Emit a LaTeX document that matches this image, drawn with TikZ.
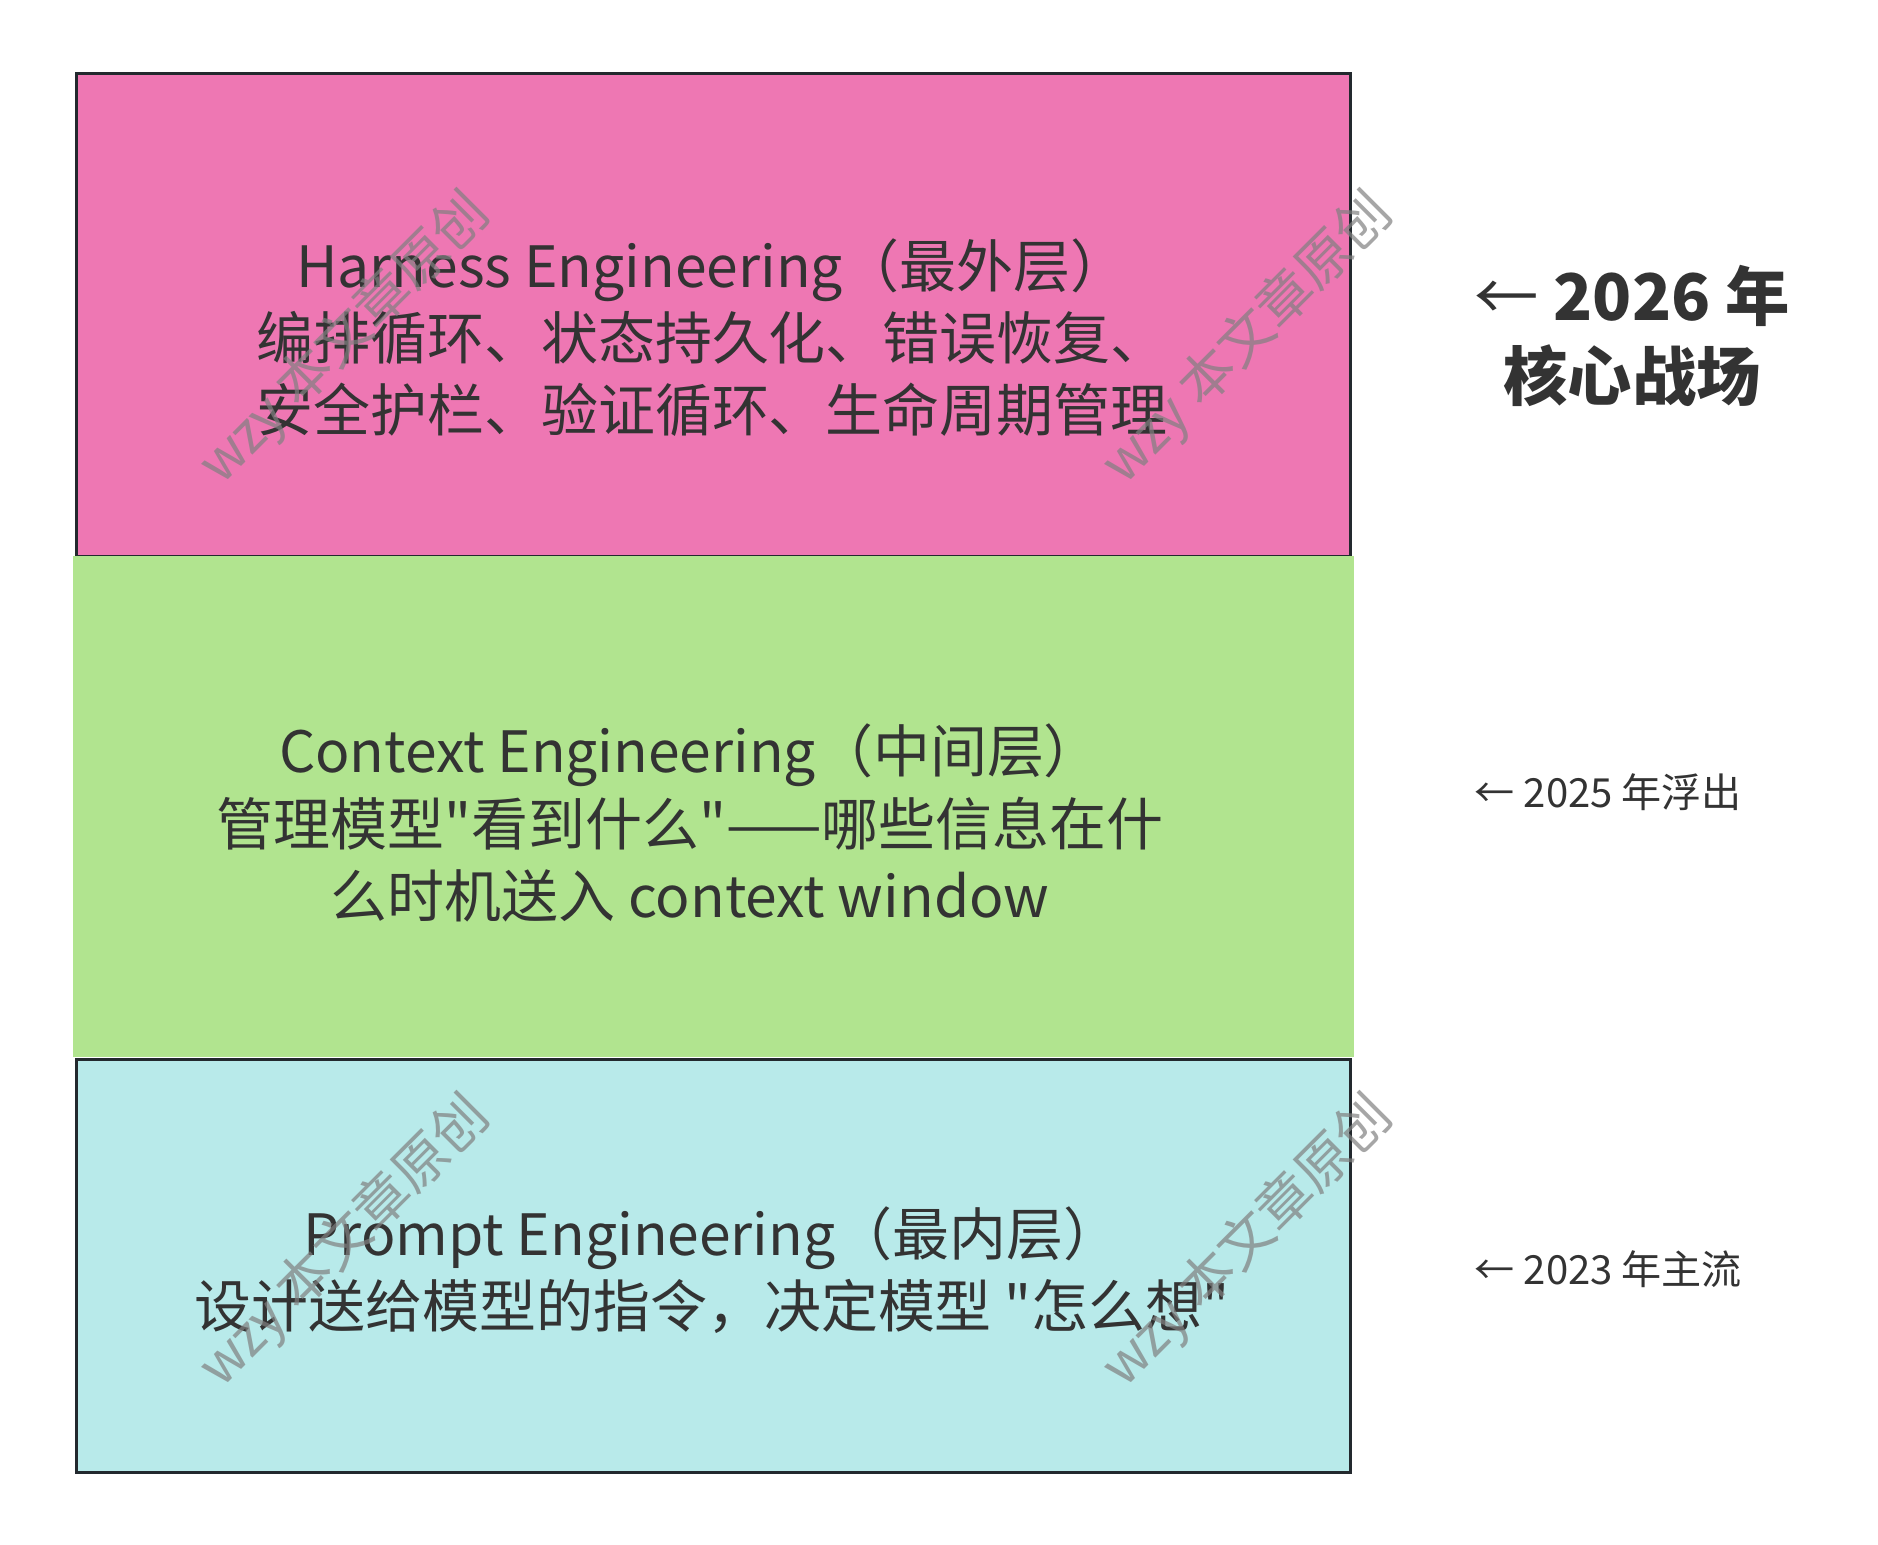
\documentclass[tikz,border=0pt]{standalone}
\usepackage{fontspec}
\setmainfont{Noto Sans CJK SC}[Ligatures=TeXOff]

\definecolor{harnessPink}{HTML}{EE77B3}
\definecolor{contextGreen}{HTML}{B1E48F}
\definecolor{promptCyan}{HTML}{B8EAEA}
\definecolor{edgeDark}{HTML}{23292E}
\definecolor{inkGray}{HTML}{333333}

\begin{document}
\begin{tikzpicture}[x=0.01cm, y=-0.01cm,
					layer/.style={rectangle, draw=edgeDark, line width=0.03cm, inner sep=0pt},
					layer text/.style={align=center, text=inkGray,
					                   font=\fontsize{16.2}{20.5}\selectfont},
					era/.style={anchor=west, inner sep=0pt, text=inkGray,
					            font=\fontsize{11.4}{13}\selectfont},
					stamp/.style={rotate=45, text=gray, text opacity=0.7,
					              font=\fontsize{15.6}{16}\selectfont}]

  \useasboundingbox (0,0) rectangle (1878,1545);

  % the three layers, outside in
  \node[layer, fill=harnessPink, minimum width=12.73cm, minimum height=4.82cm] (harness) at (713.5,315) {};
  \node[layer, draw=none, fill=contextGreen, minimum width=12.81cm, minimum height=5.01cm] (context) at (713.5,806.5) {};
  \node[layer, fill=promptCyan, minimum width=12.73cm, minimum height=4.12cm] (prompt) at (713.5,1266) {};

  \node[layer text] (harness text) at (712,338)
    {Harness Engineering（最外层）\\编排循环、状态持久化、错误恢复、\\安全护栏、验证循环、生命周期管理};
  \node[layer text] (context text) at (690,823)
    {Context Engineering（中间层）\\管理模型"看到什么"——哪些信息在什\\么时机送入 context window};
  \node[layer text] (prompt text) at (712,1270)
    {Prompt Engineering（最内层）\\设计送给模型的指令，决定模型 "怎么想"};

  % years on the right
  \node[era, anchor=center, align=center, font=\bfseries\fontsize{18.3}{22.5}\selectfont] (battlefield) at (1632,336)
    {{\mdseries ←} 2026 年\\核心战场};
  \node[era] (emerging) at (1474,792) {← 2025 年浮出};
  \node[era] (mainstream) at (1474,1269) {← 2023 年主流};

  % watermarks
  \foreach \wx/\wy [count=\i] in {345/339, 1248/339, 345/1242, 1248/1242}
    \node[stamp] (stamp\i) at (\wx,\wy) {wzy 本文章原创};
\end{tikzpicture}
\end{document}
